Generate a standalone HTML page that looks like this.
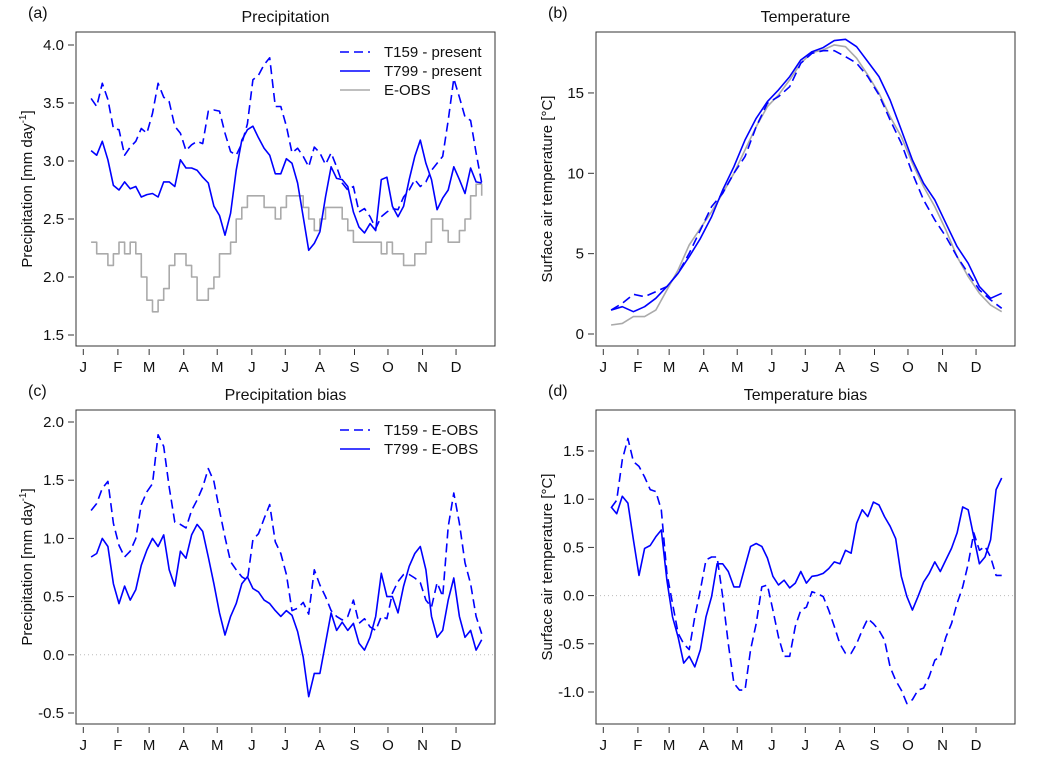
<!DOCTYPE html>
<html><head><meta charset="utf-8"><style>
html,body{margin:0;padding:0;background:#fff;}
svg{display:block;font-family:"Liberation Sans",Arial,sans-serif;}
</style></head><body>
<svg id="chart" width="1055" height="770" viewBox="0 0 1055 770">
</svg>
<script>
// ---- data (day-of-year samples) ----
const daysFine = []; for (let d = 8; d <= 358; d += 5) daysFine.push(d);
const daysCoarse = []; for (let d = 8; d <= 358; d += 10) daysCoarse.push(d);
const monthLabels = ["J","F","M","A","M","J","J","A","S","O","N","D"];
const monthDays = [1,32,60,91,121,152,182,213,244,274,305,335];

const precipT159 = [3.54,3.47,3.67,3.53,3.28,3.27,3.05,3.12,3.17,3.28,3.24,3.41,3.67,3.55,3.51,3.30,3.24,3.09,3.14,3.17,3.15,3.43,3.44,3.43,3.24,3.08,3.05,3.15,3.32,3.70,3.74,3.83,3.89,3.47,3.47,3.30,3.07,3.11,3.04,2.95,3.12,3.07,2.97,3.07,2.95,2.81,2.75,2.78,2.56,2.59,2.52,2.42,2.52,2.56,2.59,2.58,2.69,2.75,2.84,2.78,2.82,2.92,2.98,3.04,3.35,3.71,3.55,3.38,3.35,3.07,2.81];
const precipT799 = [3.09,3.05,3.17,3.01,2.79,2.75,2.82,2.76,2.78,2.69,2.71,2.72,2.69,2.82,2.82,2.78,3.01,2.94,2.94,2.92,2.86,2.81,2.61,2.53,2.36,2.55,2.92,3.18,3.27,3.30,3.20,3.11,3.05,2.89,2.89,3.02,2.98,2.81,2.52,2.23,2.29,2.39,2.69,2.95,2.85,2.84,2.78,2.56,2.43,2.38,2.46,2.40,2.84,2.86,2.61,2.52,2.61,2.84,3.04,3.18,2.98,2.84,2.58,2.68,2.75,2.95,2.84,2.72,2.94,2.82,2.81];
const precipEOBS = [2.3,2.2,2.2,2.1,2.2,2.3,2.2,2.3,2.2,2.0,1.8,1.7,1.8,1.9,2.1,2.2,2.2,2.1,2.0,1.8,1.8,1.9,2.0,2.2,2.2,2.3,2.5,2.6,2.7,2.7,2.7,2.6,2.6,2.5,2.6,2.7,2.7,2.7,2.6,2.5,2.4,2.5,2.6,2.6,2.6,2.5,2.4,2.3,2.3,2.3,2.3,2.3,2.2,2.3,2.2,2.2,2.1,2.1,2.2,2.2,2.3,2.5,2.5,2.4,2.3,2.3,2.4,2.5,2.7,2.8,2.7];

const tempT799 = [1.49,1.70,1.39,1.70,2.22,2.95,3.78,4.81,5.95,7.30,8.96,10.41,12.07,13.42,14.46,15.19,16.02,17.05,17.57,17.82,18.26,18.34,17.88,16.95,16.02,14.56,12.70,10.83,9.38,8.34,6.89,5.44,4.40,2.95,2.22,2.53];
const tempT159 = [1.49,1.91,2.47,2.32,2.63,2.95,3.78,5.02,6.47,7.93,8.76,10.00,11.04,12.90,14.36,14.77,15.39,16.85,17.47,17.63,17.63,17.26,16.85,16.02,14.88,13.32,11.87,10.00,8.34,7.10,6.06,4.81,3.78,2.74,2.12,1.60];
const tempEOBS = [0.56,0.66,1.08,1.08,1.49,2.74,3.98,5.54,6.58,7.61,8.76,10.00,11.45,12.90,14.15,14.88,15.81,16.85,17.51,17.68,17.99,17.88,17.16,16.12,14.98,13.53,12.28,10.62,9.17,7.93,6.47,4.81,3.57,2.53,1.80,1.39];

const pbiasT159 = [1.24,1.30,1.43,1.49,1.13,0.94,0.84,0.89,1.00,1.29,1.40,1.47,1.89,1.79,1.44,1.14,1.12,1.09,1.24,1.33,1.44,1.60,1.49,1.24,1.01,0.80,0.73,0.67,0.64,0.99,1.04,1.17,1.29,0.97,0.87,0.69,0.38,0.40,0.45,0.35,0.73,0.60,0.50,0.38,0.33,0.30,0.33,0.47,0.27,0.31,0.24,0.21,0.33,0.31,0.53,0.63,0.69,0.69,0.66,0.62,0.47,0.41,0.62,0.50,1.10,1.39,1.13,0.79,0.61,0.33,0.18];
const pbiasT799 = [0.84,0.87,1.00,0.93,0.61,0.44,0.59,0.47,0.56,0.77,0.90,1.00,0.93,1.03,0.73,0.59,0.89,0.83,1.03,1.12,1.06,0.84,0.61,0.36,0.17,0.33,0.44,0.61,0.67,0.57,0.54,0.47,0.44,0.38,0.33,0.38,0.34,0.20,-0.02,-0.36,-0.16,-0.16,0.10,0.36,0.21,0.28,0.21,0.27,0.10,0.04,0.15,0.33,0.70,0.50,0.50,0.36,0.59,0.76,0.87,0.93,0.73,0.33,0.15,0.21,0.47,0.66,0.33,0.15,0.21,0.04,0.13];

const tbiasT159 = [0.91,0.99,1.41,1.63,1.39,1.34,1.23,1.10,1.08,0.89,0.23,-0.08,-0.39,-0.50,-0.56,-0.22,0.06,0.37,0.40,0.40,-0.01,-0.50,-0.91,-0.98,-0.98,-0.56,-0.29,0.09,0.11,-0.15,-0.43,-0.63,-0.63,-0.32,-0.15,-0.12,0.04,0.02,-0.01,-0.15,-0.32,-0.50,-0.60,-0.60,-0.50,-0.36,-0.24,-0.29,-0.36,-0.46,-0.74,-0.88,-0.98,-1.12,-1.08,-0.98,-0.96,-0.84,-0.67,-0.63,-0.43,-0.29,-0.08,0.09,0.33,0.65,0.47,0.51,0.40,0.21,0.21];
const tbiasT799 = [0.92,0.85,1.03,0.96,0.58,0.21,0.49,0.52,0.61,0.68,0.16,-0.22,-0.43,-0.70,-0.63,-0.74,-0.56,-0.22,-0.01,0.33,0.33,0.25,0.09,0.09,0.30,0.51,0.54,0.51,0.39,0.20,0.11,0.16,0.08,0.13,0.25,0.13,0.20,0.21,0.23,0.28,0.35,0.33,0.47,0.44,0.75,0.89,0.82,0.97,0.94,0.82,0.72,0.59,0.20,-0.01,-0.15,-0.01,0.14,0.23,0.35,0.25,0.37,0.49,0.65,0.92,0.89,0.61,0.33,0.40,0.58,1.10,1.22];

const ticksA = [1.5,2.0,2.5,3.0,3.5,4.0];
const ticksB = [0,5,10,15];
const ticksC = [-0.5,0.0,0.5,1.0,1.5,2.0];
const ticksD = [-1.0,-0.5,0.0,0.5,1.0,1.5];

// ---- drawing ----
const NS = "http://www.w3.org/2000/svg";
const svg = document.getElementById("chart");
function mk(tag, attrs, parent) {
  const e = document.createElementNS(NS, tag);
  for (const k in attrs) e.setAttribute(k, attrs[k]);
  (parent || svg).appendChild(e);
  return e;
}
const BLUE = "#0000ff", GRAY = "#aaaaaa";

function panel(cfg) {
  const g = mk("g", {});
  
  
  const L = cfg.left, R = L + 419, T = cfg.top, B = T + 314;
  const xs = d => L + 7.3 + (d - 1) * 1.116;
  const ys = v => cfg.y0 + (cfg.v0 - v) * cfg.k;
  const box = mk("rect", {x: L, y: T, width: R - L, height: B - T, fill: "none", stroke: "#333", "stroke-width": 1}, g);
  
  
  if (cfg.zero) {
    const z = mk("line", {x1: L, x2: R, y1: ys(0), y2: ys(0), stroke: "#bbb", "stroke-width": 1, "stroke-dasharray": "1,3"}, g);
    
    
  }
  const yt = cfg.ticks;
  const ya = mk("g", {}, g);
  
  
  yt.forEach(v => {
    const y = ys(v);
    mk("line", {x1: L - 8, x2: L - 2, y1: y, y2: y, stroke: "#333"}, ya);
    const t = mk("text", {x: L - 12, y: y + 5, "text-anchor": "end", "font-size": 15, fill: "#111"}, ya);
    t.textContent = cfg.fmt(v);
    
    
  });
  const xa = mk("g", {}, g);
  
  
  monthDays.forEach((d, i) => {
    const x = xs(d);
    mk("line", {x1: x, x2: x, y1: B + 3, y2: B + 9, stroke: "#333"}, xa);
    const t = mk("text", {x: x, y: B + 26, "text-anchor": "middle", "font-size": 15, fill: "#111"}, xa);
    t.textContent = monthLabels[i];
    
    
  });
  const tt = mk("text", {x: (L + R) / 2, y: T - 10, "text-anchor": "middle", "font-size": 16, fill: "#111"}, g);
  tt.textContent = cfg.title;
  
  
  const tg = mk("text", {x: L - 48, y: T - 14, "font-size": 16, fill: "#111"}, g);
  tg.textContent = cfg.tag;
  
  
  const cy = (T + B) / 2, cx = L - 44;
  const yl = mk("text", {x: cx, y: cy, "text-anchor": "middle", "font-size": 15, fill: "#111", transform: `rotate(-90 ${cx} ${cy})`}, g);
  
  
  if (cfg.precip) {
    yl.appendChild(document.createTextNode("Precipitation [mm day"));
    const s = mk("tspan", {"font-size": 10, dy: -6}, yl); s.textContent = "-1";
    const s2 = mk("tspan", {dy: 6}, yl); s2.textContent = "]";
  } else {
    yl.textContent = "Surface air temperature [°C]";
  }
  cfg.series.forEach(s => {
    let d = "";
    s.vals.forEach((v, i) => {
      const x = xs(s.days[i]), y = ys(v);
      if (i === 0) d += `M${x.toFixed(1)},${y.toFixed(1)}`;
      else if (s.step) d += `H${x.toFixed(1)}V${y.toFixed(1)}`;
      else d += `L${x.toFixed(1)},${y.toFixed(1)}`;
    });
    const p = mk("path", {d: d, fill: "none", stroke: s.color, "stroke-width": 1.6, "stroke-linejoin": "round"}, g);
    if (s.dash) p.setAttribute("stroke-dasharray", "9,5");
    
    
  });
  if (cfg.legend) {
    const lg = mk("g", {}, g);
    
    
    cfg.legend.forEach((e, i) => {
      const y = T + 20 + i * 19;
      const ln = mk("line", {x1: R - 155, x2: R - 125, y1: y, y2: y, stroke: e.color, "stroke-width": 1.6}, lg);
      if (e.dash) ln.setAttribute("stroke-dasharray", "9,5");
      const t = mk("text", {x: R - 111, y: y + 5, "font-size": 15, fill: "#111"}, lg);
      t.textContent = e.label;
      
      
    });
  }
}
const f1 = v => v.toFixed(1);
panel({name: "panel-precipitation", left: 76, top: 32, y0: 45, v0: 4.0, k: 116, ticks: ticksA, fmt: f1, title: "Precipitation", tag: "(a)", precip: true,
  series: [
    {name: "line-eobs", vals: precipEOBS, days: daysFine, color: GRAY, step: true},
    {name: "line-t799", vals: precipT799, days: daysFine, color: BLUE},
    {name: "line-t159", vals: precipT159, days: daysFine, color: BLUE, dash: true}],
  legend: [{label: "T159 - present", color: BLUE, dash: true}, {label: "T799 - present", color: BLUE}, {label: "E-OBS", color: GRAY}]});
panel({name: "panel-temperature", left: 596, top: 32, y0: 334, v0: 0, k: 16.07, ticks: ticksB, fmt: v => String(v), title: "Temperature", tag: "(b)",
  series: [
    {name: "line-eobs", vals: tempEOBS, days: daysCoarse, color: GRAY},
    {name: "line-t799", vals: tempT799, days: daysCoarse, color: BLUE},
    {name: "line-t159", vals: tempT159, days: daysCoarse, color: BLUE, dash: true}]});
panel({name: "panel-precipitation-bias", left: 76, top: 410, y0: 422, v0: 2.0, k: 116.4, ticks: ticksC, fmt: f1, title: "Precipitation bias", tag: "(c)", precip: true, zero: true,
  series: [
    {name: "line-t799-bias", vals: pbiasT799, days: daysFine, color: BLUE},
    {name: "line-t159-bias", vals: pbiasT159, days: daysFine, color: BLUE, dash: true}],
  legend: [{label: "T159 - E-OBS", color: BLUE, dash: true}, {label: "T799 - E-OBS", color: BLUE}]});
panel({name: "panel-temperature-bias", left: 596, top: 410, y0: 451, v0: 1.5, k: 96.4, ticks: ticksD, fmt: f1, title: "Temperature bias", tag: "(d)", zero: true,
  series: [
    {name: "line-t799-bias", vals: tbiasT799, days: daysFine, color: BLUE},
    {name: "line-t159-bias", vals: tbiasT159, days: daysFine, color: BLUE, dash: true}]});
</script>
</body></html>
